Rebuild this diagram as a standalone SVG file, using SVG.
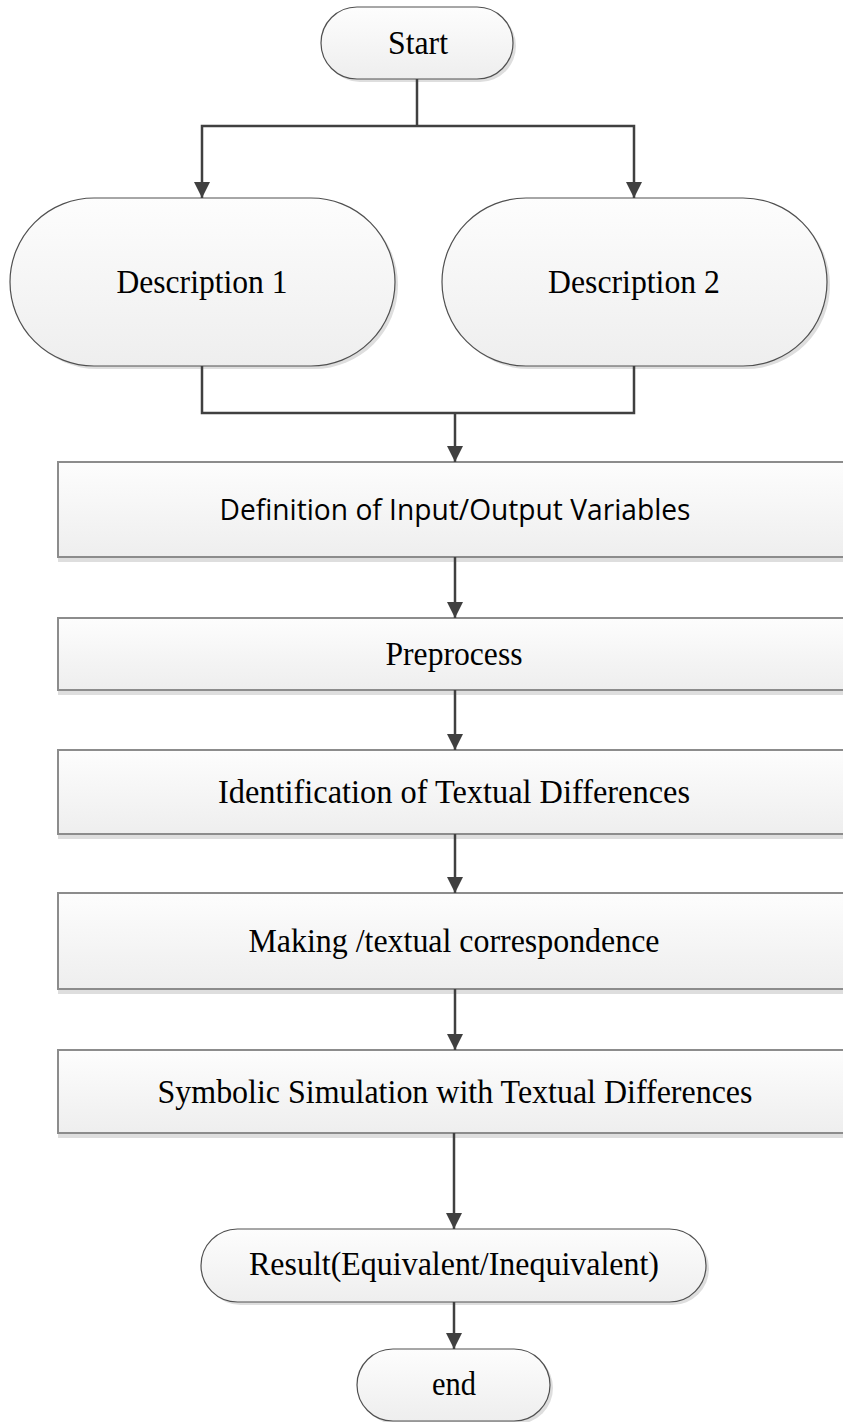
<svg xmlns="http://www.w3.org/2000/svg" width="843" height="1422" viewBox="0 0 843 1422">
  <defs>
    <linearGradient id="fillGrad" x1="0" y1="0" x2="0" y2="1">
      <stop offset="0" stop-color="#fdfdfd"/>
      <stop offset="1" stop-color="#eeeeee"/>
    </linearGradient>
    <marker id="arrow" viewBox="0 0 16 18" refX="16" refY="9" markerWidth="16" markerHeight="18" markerUnits="userSpaceOnUse" orient="auto">
      <path d="M0,1 L16,9 L0,17 Z" fill="#404040"/>
    </marker>
    <style>
      .shadow { fill: #dedede; stroke: none; }
      .pill { fill: url(#fillGrad); stroke: #505050; stroke-width: 1.2; }
      .box { fill: url(#fillGrad); stroke: #8c8c8c; stroke-width: 2; }
      .serif { font-family: "Liberation Serif", "Times New Roman", serif; font-size: 34px; fill: #000; text-anchor: middle; }
      .sans { font-family: "Open Sans", "Liberation Sans", sans-serif; font-size: 29px; fill: #000; text-anchor: middle; }
      .conn { fill: none; stroke: #404040; stroke-width: 2.5; }
    </style>
  </defs>
  <rect width="843" height="1422" fill="#ffffff"/>

  <g id="start">
    <rect class="shadow" x="324" y="10" width="192" height="72" rx="36"/>
    <rect class="pill" x="321" y="7" width="192" height="72" rx="36"/>
    <text class="serif" x="418" y="54" textLength="60" lengthAdjust="spacingAndGlyphs">Start</text>
  </g>

  <g id="description1">
    <rect class="shadow" x="13" y="201" width="385" height="168" rx="84"/>
    <rect class="pill" x="10" y="198" width="385" height="168" rx="84"/>
    <text class="serif" x="202" y="293" textLength="171" lengthAdjust="spacingAndGlyphs">Description 1</text>
  </g>

  <g id="description2">
    <rect class="shadow" x="445" y="201" width="385" height="168" rx="84"/>
    <rect class="pill" x="442" y="198" width="385" height="168" rx="84"/>
    <text class="serif" x="634" y="293" textLength="172" lengthAdjust="spacingAndGlyphs">Description 2</text>
  </g>

  <g id="definition">
    <rect class="shadow" x="58" y="462" width="800" height="100"/>
    <rect class="box" x="58" y="462" width="800" height="95"/>
    <text class="sans" x="455" y="520" textLength="471" lengthAdjust="spacingAndGlyphs">Definition of Input/Output Variables</text>
  </g>

  <g id="preprocess">
    <rect class="shadow" x="58" y="618" width="800" height="77"/>
    <rect class="box" x="58" y="618" width="800" height="72"/>
    <text class="serif" x="454" y="665" textLength="137" lengthAdjust="spacingAndGlyphs">Preprocess</text>
  </g>

  <g id="identification">
    <rect class="shadow" x="58" y="750" width="800" height="89"/>
    <rect class="box" x="58" y="750" width="800" height="84"/>
    <text class="serif" x="454" y="803" textLength="472" lengthAdjust="spacingAndGlyphs">Identification of Textual Differences</text>
  </g>

  <g id="making">
    <rect class="shadow" x="58" y="893" width="800" height="101"/>
    <rect class="box" x="58" y="893" width="800" height="96"/>
    <text class="serif" x="454" y="952" textLength="411" lengthAdjust="spacingAndGlyphs">Making /textual correspondence</text>
  </g>

  <g id="symbolic">
    <rect class="shadow" x="58" y="1050" width="800" height="88"/>
    <rect class="box" x="58" y="1050" width="800" height="83"/>
    <text class="serif" x="455" y="1103" textLength="595" lengthAdjust="spacingAndGlyphs">Symbolic Simulation with Textual Differences</text>
  </g>

  <g id="result">
    <rect class="shadow" x="204" y="1232" width="505" height="73" rx="36.5"/>
    <rect class="pill" x="201" y="1229" width="505" height="73" rx="36.5"/>
    <text class="serif" x="454" y="1275" textLength="410" lengthAdjust="spacingAndGlyphs">Result(Equivalent/Inequivalent)</text>
  </g>

  <g id="end">
    <rect class="shadow" x="360" y="1352" width="193" height="72" rx="36"/>
    <rect class="pill" x="357" y="1349" width="193" height="72" rx="36"/>
    <text class="serif" x="454" y="1395" textLength="44" lengthAdjust="spacingAndGlyphs">end</text>
  </g>

  <g id="connectors">
    <path class="conn" d="M417,79 V126"/>
    <path class="conn" d="M417,126 H202 V198" marker-end="url(#arrow)"/>
    <path class="conn" d="M417,126 H634 V198" marker-end="url(#arrow)"/>
    <path class="conn" d="M202,366 V413 H634 V366"/>
    <path class="conn" d="M455,413 V462" marker-end="url(#arrow)"/>
    <path class="conn" d="M455,557 V618" marker-end="url(#arrow)"/>
    <path class="conn" d="M455,690 V750" marker-end="url(#arrow)"/>
    <path class="conn" d="M455,834 V893" marker-end="url(#arrow)"/>
    <path class="conn" d="M455,989 V1050" marker-end="url(#arrow)"/>
    <path class="conn" d="M454,1133 V1229" marker-end="url(#arrow)"/>
    <path class="conn" d="M454,1302 V1349" marker-end="url(#arrow)"/>
  </g>
</svg>
